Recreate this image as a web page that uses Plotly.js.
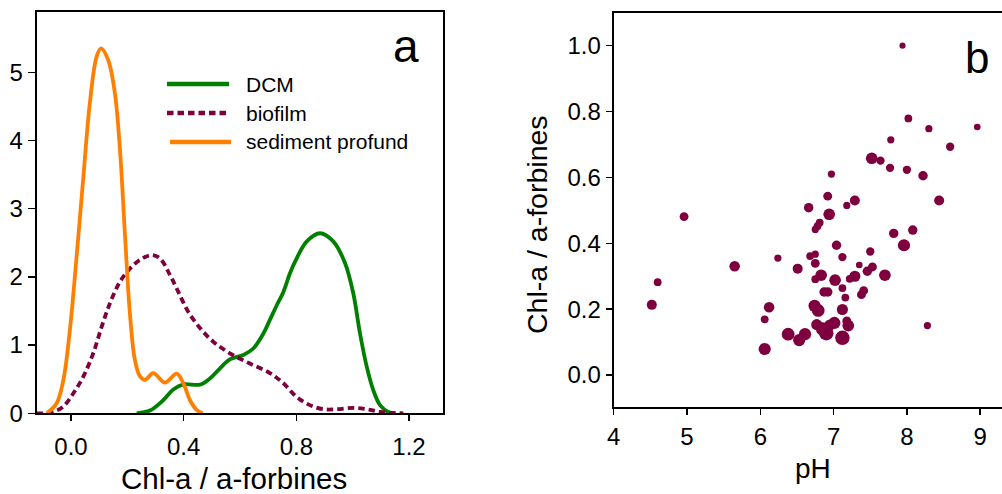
<!DOCTYPE html>
<html>
<head>
<meta charset="utf-8">
<script src="https://cdn.plot.ly/plotly-3.0.1.min.js"></script>
<style>
  html, body { margin: 0; padding: 0; background: #ffffff; }
  #chart { width: 1002px; height: 494px; }
</style>
</head>
<body>
<div id="chart"></div>
<script>
// Panel a: kernel density estimates of the Chl-a / a-forbines ratio
const dcmX = [0.233, 0.280, 0.328, 0.363, 0.399, 0.458, 0.493, 0.529, 0.564, 0.612, 0.647, 0.683, 0.706, 0.730, 0.754, 0.777, 0.795, 0.837, 0.884, 0.931, 0.973, 1.002, 1.026, 1.050, 1.073, 1.097, 1.126, 1.144];
const dcmDensity = [0, 0.04, 0.195, 0.35, 0.425, 0.42, 0.51, 0.66, 0.79, 0.855, 0.95, 1.17, 1.37, 1.58, 1.78, 2.05, 2.22, 2.52, 2.64, 2.52, 2.20, 1.76, 1.17, 0.68, 0.34, 0.12, 0.02, 0];

const biofilmX = [-0.122, -0.098, -0.063, -0.027, 0.008, 0.044, 0.079, 0.109, 0.138, 0.174, 0.209, 0.245, 0.286, 0.316, 0.351, 0.381, 0.416, 0.458, 0.505, 0.564, 0.635, 0.706, 0.754, 0.801, 0.848, 0.896, 0.943, 1.002, 1.050, 1.097, 1.180];
const biofilmDensity = [0, 0, 0.02, 0.10, 0.29, 0.54, 0.88, 1.27, 1.61, 1.93, 2.12, 2.25, 2.32, 2.27, 2.03, 1.78, 1.49, 1.25, 1.05, 0.88, 0.73, 0.59, 0.44, 0.24, 0.12, 0.06, 0.06, 0.08, 0.06, 0.02, 0];

const sedimentX = [-0.086, -0.051, -0.027, -0.004, 0.020, 0.044, 0.067, 0.091, 0.1065, 0.132, 0.156, 0.174, 0.192, 0.209, 0.227, 0.245, 0.263, 0.292, 0.334, 0.375, 0.399, 0.422, 0.446, 0.467];
const sedimentDensity = [0, 0.147, 0.49, 1.22, 2.30, 3.47, 4.55, 5.23, 5.35, 5.18, 4.69, 3.86, 2.59, 1.47, 0.78, 0.54, 0.49, 0.59, 0.45, 0.58, 0.44, 0.195, 0.05, 0];

const seriesNames = ["DCM", "biofilm", "sediment profund"];

// Panel b: ratio against pH, bubble size from the sample weight
const phValues = [7.94, 8.02, 8.30, 8.96, 7.78, 8.59, 7.52, 7.64, 7.77, 8.00, 8.22, 6.97, 6.92, 7.29, 8.44, 7.18, 6.66, 6.94, 4.96, 6.81, 6.78, 6.75, 8.08, 7.82, 7.96, 7.04, 7.50, 6.75, 6.68, 6.24, 7.12, 5.65, 6.75, 7.35, 6.51, 7.53, 7.46, 7.70, 6.83, 7.29, 7.22, 6.75, 7.02, 4.60, 7.12, 6.87, 6.92, 7.41, 7.38, 7.16, 4.52, 6.12, 6.74, 6.79, 7.12, 6.06, 7.18, 6.77, 7.01, 7.20, 8.28, 6.85, 6.95, 6.38, 6.61, 6.53, 6.90, 7.12, 6.06];
const ratioValues = [1.000, 0.779, 0.748, 0.753, 0.714, 0.693, 0.658, 0.651, 0.629, 0.623, 0.605, 0.610, 0.543, 0.530, 0.530, 0.515, 0.508, 0.488, 0.481, 0.463, 0.452, 0.442, 0.440, 0.430, 0.394, 0.394, 0.375, 0.367, 0.361, 0.355, 0.358, 0.330, 0.339, 0.334, 0.323, 0.328, 0.315, 0.303, 0.303, 0.300, 0.292, 0.291, 0.288, 0.282, 0.264, 0.252, 0.252, 0.256, 0.244, 0.235, 0.213, 0.206, 0.210, 0.196, 0.199, 0.169, 0.164, 0.153, 0.158, 0.150, 0.150, 0.140, 0.152, 0.124, 0.124, 0.106, 0.127, 0.113, 0.079];
const sampleWeight = [0.55, 0.70, 0.65, 0.60, 0.65, 0.75, 1.05, 0.75, 0.75, 0.75, 0.85, 0.65, 0.80, 0.90, 0.90, 0.65, 0.85, 1.05, 0.80, 0.70, 0.70, 0.65, 0.85, 0.85, 1.10, 0.85, 0.75, 0.65, 0.70, 0.65, 0.75, 0.95, 0.80, 0.60, 0.90, 0.80, 0.85, 1.05, 1.05, 1.00, 0.70, 0.70, 1.05, 0.70, 0.70, 0.85, 0.85, 0.80, 0.80, 0.70, 0.90, 0.95, 1.10, 1.15, 1.00, 0.70, 0.80, 1.00, 1.10, 1.05, 0.65, 1.20, 1.00, 1.15, 1.10, 1.10, 1.30, 1.30, 1.10];

const densityTicks = [0, 1, 2, 3, 4, 5];
const ratioTicksA = [0.0, 0.4, 0.8, 1.2];
const phTicks = [4, 5, 6, 7, 8, 9];
const ratioTicksB = [0.0, 0.2, 0.4, 0.6, 0.8, 1.0];

const GREEN = "#008000";
const ORANGE = "#ff8000";
const PURPLE = "#7f003f";
const DASH = "6.5px,4px";
const FONT = "Arial, 'Liberation Sans', sans-serif";

const traces = [
  { x: dcmX, y: dcmDensity, name: seriesNames[0], type: "scatter", mode: "lines",
    line: { color: GREEN, width: 3.8, shape: "spline", smoothing: 1 }, xaxis: "x", yaxis: "y" },
  { x: biofilmX, y: biofilmDensity, name: seriesNames[1], type: "scatter", mode: "lines",
    line: { color: PURPLE, width: 3.8, dash: DASH, shape: "spline", smoothing: 1 }, xaxis: "x", yaxis: "y" },
  { x: sedimentX, y: sedimentDensity, name: seriesNames[2], type: "scatter", mode: "lines",
    line: { color: ORANGE, width: 3.8, shape: "spline", smoothing: 1 }, xaxis: "x", yaxis: "y" },
  { x: phValues, y: ratioValues, type: "scatter", mode: "markers", name: "samples",
    marker: { color: PURPLE, opacity: 1, size: sampleWeight, sizemode: "diameter", sizeref: 0.09, line: { width: 0 } },
    xaxis: "x2", yaxis: "y2" }
];

// pixel helpers for the 1002 x 494 canvas
const W = 1002, H = 494;
const px = v => v / W;
const py = v => 1 - v / H;

const axisCommon = {
  showline: true, linecolor: "#000", linewidth: 2,
  ticks: "outside", ticklen: 6, tickwidth: 1.5, tickcolor: "#000",
  showgrid: false, zeroline: false, fixedrange: true,
  tickfont: { family: FONT, size: 24, color: "#000" }
};

// hand-placed key for panel a
const keyRows = [
  { y: 84, color: GREEN, dash: "solid", x0: 167, x1: 229 },
  { y: 113, color: PURPLE, dash: DASH, x0: 167, x1: 229 },
  { y: 142, color: ORANGE, dash: "solid", x0: 170, x1: 231 }
];
const shapes = keyRows.map(r => ({
  type: "line", xref: "paper", yref: "paper",
  x0: px(r.x0), x1: px(r.x1), y0: py(r.y), y1: py(r.y),
  line: { color: r.color, width: 4.5, dash: r.dash }
}));
const annotations = keyRows.map((r, i) => ({
  xref: "paper", yref: "paper", x: px(244), y: py(r.y),
  xanchor: "left", yanchor: "middle", showarrow: false,
  text: seriesNames[i], font: { family: FONT, size: 21, color: "#000" }
}));

annotations.push(
  { xref: "paper", yref: "paper", x: px(406), y: py(46), xanchor: "center", yanchor: "middle",
    showarrow: false, text: "a", font: { family: FONT, size: 46, color: "#000" } },
  { xref: "paper", yref: "paper", x: px(977), y: py(57), xanchor: "center", yanchor: "middle",
    showarrow: false, text: "b", font: { family: FONT, size: 44, color: "#000" } },
  { xref: "paper", yref: "paper", x: px(233.5), y: py(478), xanchor: "center", yanchor: "middle",
    showarrow: false, text: "Chl-a / a-forbines", font: { family: FONT, size: 29.5, color: "#000" } },
  { xref: "paper", yref: "paper", x: px(813), y: py(468), xanchor: "center", yanchor: "middle",
    showarrow: false, text: "pH", font: { family: FONT, size: 28, color: "#000" } },
  { xref: "paper", yref: "paper", x: px(537), y: py(225), xanchor: "center", yanchor: "middle",
    showarrow: false, textangle: -90, text: "Chl-a / a-forbines", font: { family: FONT, size: 28.5, color: "#000" } }
);

const layout = {
  width: W, height: H,
  margin: { l: 0, r: 0, t: 0, b: 0, pad: 0 },
  paper_bgcolor: "#ffffff", plot_bgcolor: "#ffffff",
  showlegend: false,
  font: { family: FONT, color: "#000" },
  xaxis: Object.assign({}, axisCommon, {
    domain: [px(36.7), px(443.3)], range: [-0.1217, 1.3216], mirror: true,
    tickvals: ratioTicksA, tickformat: ".1f", anchor: "y", ticklabelstandoff: 5
  }),
  yaxis: Object.assign({}, axisCommon, {
    domain: [py(413.3), py(11.7)], range: [0, 5.888], mirror: true, ticklen: 7,
    tickvals: densityTicks, anchor: "x"
  }),
  xaxis2: Object.assign({}, axisCommon, {
    domain: [px(613.7), 1], range: [4, 4 + (W - 613.7) / 73.3], mirror: true,
    tickvals: phTicks, anchor: "y2", ticklabelstandoff: 1
  }),
  yaxis2: Object.assign({}, axisCommon, {
    domain: [py(407.3), py(12.7)], range: [-0.098, 1.1], mirror: false,
    tickvals: ratioTicksB, tickformat: ".1f", anchor: "x2"
  }),
  shapes: shapes,
  annotations: annotations
};

Plotly.newPlot("chart", traces, layout, { displayModeBar: false, staticPlot: true });
</script>
</body>
</html>
